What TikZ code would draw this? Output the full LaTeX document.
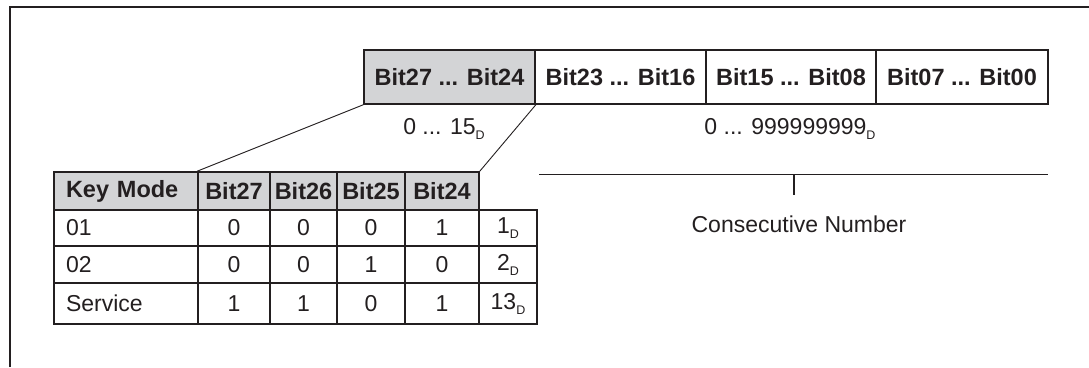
\documentclass[tikz,border=0pt]{standalone}
\usepackage{fontspec}
\setmainfont{Liberation Sans}
\definecolor{hdrgrey}{RGB}{211,212,214}
\definecolor{ink}{RGB}{35,31,32}
\newcommand{\subD}{{\fontsize{12.5}{12.5}\selectfont\raisebox{-5pt}{D}}}
\begin{document}
\begin{tikzpicture}[x=1pt,y=-1pt,
  every node/.style={font=\fontsize{23}{27}\selectfont, text=ink, inner sep=0pt},
  bitbox/.style={draw=ink, line width=1.6pt, minimum height=54pt, minimum width=171pt, font=\fontsize{23.5}{27}\selectfont\bfseries},
  cell/.style={draw=ink, line width=1.6pt},
  hdr/.style={cell, fill=hdrgrey, font=\fontsize{23.5}{27}\selectfont\bfseries},
  thin/.style={draw=ink, line width=0.9pt},
  frame/.style={draw=ink, line width=1.3pt}
]
\useasboundingbox (0,0) rectangle (1089,367);
% frame
\coordinate (fbl) at (10,367);
\coordinate (ftl) at (10,7);
\coordinate (ftr) at (1089,7);
\draw[frame] (fbl) -- (ftl) -- (ftr);

% top boxes
\node[bitbox, fill=hdrgrey] (b1) at (449.5,77) {Bit27 ... Bit24};
\node[bitbox] (b2) at (620.5,77) {Bit23 ... Bit16};
\node[bitbox] (b3) at (791,77) {Bit15 ... Bit08};
\node[bitbox, minimum width=172pt] (b4) at (962,77) {Bit07 ... Bit00};

\node (r1) at (444,129) {0 ... 15\subD};
\node (r2) at (790,129) {0 ... 999999999\subD};

% table header
\node[hdr, minimum width=144pt, minimum height=38pt, text width=120pt, align=left] (hkm) at (126,191) {Key Mode};
\node[hdr, minimum width=72pt, minimum height=38pt] (h27) at (234,191) {Bit27};
\node[hdr, minimum width=67pt, minimum height=38pt] (h26) at (303.5,191) {Bit26};
\node[hdr, minimum width=68pt, minimum height=38pt] (h25) at (371,191) {Bit25};
\node[hdr, minimum width=74pt, minimum height=38pt] (h24) at (442,191) {Bit24};

% row 1
\node[cell, minimum width=144pt, minimum height=36pt, text width=120pt, align=left] (k1) at (126,228) {01};
\node[cell, minimum width=72pt, minimum height=36pt] (a1) at (234,228) {0};
\node[cell, minimum width=67pt, minimum height=36pt] (c1) at (303.5,228) {0};
\node[cell, minimum width=68pt, minimum height=36pt] (d1) at (371,228) {0};
\node[cell, minimum width=74pt, minimum height=36pt] (e1) at (442,228) {1};
\node[cell, minimum width=58pt, minimum height=36pt] (f1) at (508,228) {1\subD};
% row 2
\node[cell, minimum width=144pt, minimum height=37pt, text width=120pt, align=left] (k2) at (126,264.5) {02};
\node[cell, minimum width=72pt, minimum height=37pt] (a2) at (234,264.5) {0};
\node[cell, minimum width=67pt, minimum height=37pt] (c2) at (303.5,264.5) {0};
\node[cell, minimum width=68pt, minimum height=37pt] (d2) at (371,264.5) {1};
\node[cell, minimum width=74pt, minimum height=37pt] (e2) at (442,264.5) {0};
\node[cell, minimum width=58pt, minimum height=37pt] (f2) at (508,264.5) {2\subD};
% row 3
\node[cell, minimum width=144pt, minimum height=41pt, text width=120pt, align=left] (k3) at (126,303.5) {Service};
\node[cell, minimum width=72pt, minimum height=41pt] (a3) at (234,303.5) {1};
\node[cell, minimum width=67pt, minimum height=41pt] (c3) at (303.5,303.5) {1};
\node[cell, minimum width=68pt, minimum height=41pt] (d3) at (371,303.5) {0};
\node[cell, minimum width=74pt, minimum height=41pt] (e3) at (442,303.5) {1};
\node[cell, minimum width=58pt, minimum height=41pt] (f3) at (508,303.5) {13\subD};

% connectors from grey box to table
\draw[thin] (b1.south west) -- (h27.north west);
\draw[thin] (b1.south east) -- (h24.north east);

% bracket for consecutive number
\coordinate (brL) at (539,174.5);
\coordinate (brR) at (1048,174.5);
\coordinate (brM) at (794,174.5);
\coordinate (brT) at (794,195);
\draw[draw=ink, line width=1.6pt] (brL) -- (brR);
\draw[draw=ink, line width=1.6pt] (brM) -- (brT);
\node (cn) at (799,224) {Consecutive Number};
\end{tikzpicture}
\end{document}
